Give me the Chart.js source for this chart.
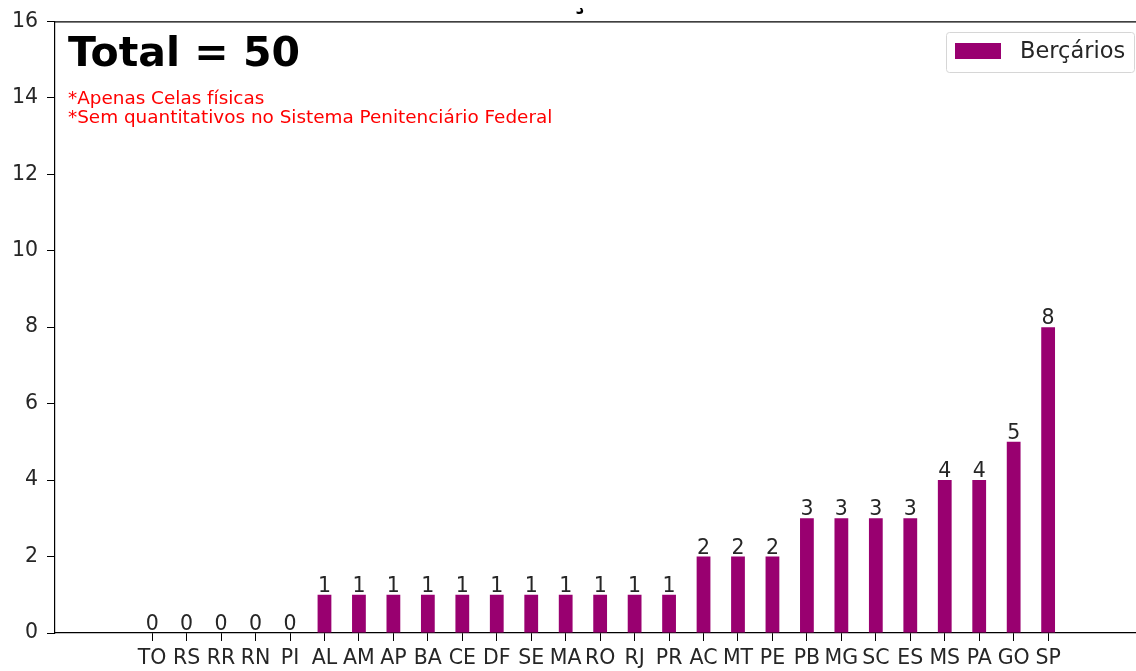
<!DOCTYPE html>
<html>
<head>
<meta charset="utf-8">
<script src="https://cdn.jsdelivr.net/npm/chart.js@4.4.1/dist/chart.umd.min.js"></script>
<style>
  html, body { margin: 0; padding: 0; background: #fff; }
  #wrap { width: 1136px; height: 671px; position: relative; }
</style>
</head>
<body>
<div id="wrap"><canvas id="c" width="1136" height="671"></canvas></div>
<script>
const categories = ["TO","RS","RR","RN","PI","AL","AM","AP","BA","CE","DF","SE","MA","RO","RJ","PR","AC","MT","PE","PB","MG","SC","ES","MS","PA","GO","SP"];
const bercarios = [0,0,0,0,0,1,1,1,1,1,1,1,1,1,1,1,2,2,2,3,3,3,3,4,4,5,8];
const yTicks = [0,2,4,6,8,10,12,14,16];
const seriesLabel = "Berçários";
const totalText = "Total = " + bercarios.reduce((a,b)=>a+b,0);
const notes = ["*Apenas Celas físicas", "*Sem quantitativos no Sistema Penitenciário Federal"];

const FONT = "'DejaVu Sans', sans-serif";
const BAR_COLOR = "#990070";

const overlay = {
  id: 'overlay',
  afterDraw(chart) {
    const ctx = chart.ctx;
    const a = chart.chartArea;
    const xs = chart.scales.x, ys = chart.scales.y;
    ctx.save();
    // top spine
    ctx.strokeStyle = '#000';
    ctx.lineWidth = 1.2;
    ctx.beginPath();
    ctx.moveTo(a.left, a.top + 0.5);
    ctx.lineTo(a.right, a.top + 0.5);
    ctx.stroke();

    // value labels
    ctx.fillStyle = '#262626';
    ctx.font = "20.5px " + FONT;
    ctx.textAlign = 'center';
    ctx.textBaseline = 'alphabetic';
    bercarios.forEach((v, i) => {
      const px = xs.getPixelForValue(i);
      const py = ys.getPixelForValue(v);
      ctx.fillText(String(v), px, py - 3);
    });

    // Total text
    ctx.fillStyle = '#000';
    ctx.font = "bold 41px " + FONT;
    ctx.textAlign = 'left';
    ctx.fillText(totalText, 68, 66);

    // notes
    ctx.fillStyle = '#ff0000';
    ctx.font = "18.4px " + FONT;
    ctx.fillText(notes[0], 68, 104);
    ctx.fillText(notes[1], 68, 123);

    // legend
    const lx = 946, ly = 32, lw = 188, lh = 40;
    ctx.fillStyle = 'rgba(255,255,255,0.8)';
    ctx.strokeStyle = '#d6d6d6';
    ctx.lineWidth = 1;
    ctx.beginPath();
    if (ctx.roundRect) ctx.roundRect(lx + 0.5, ly + 0.5, lw, lh, 3); else ctx.rect(lx + 0.5, ly + 0.5, lw, lh);
    ctx.fill();
    ctx.stroke();
    ctx.fillStyle = BAR_COLOR;
    ctx.fillRect(955, 43, 46, 16);
    ctx.fillStyle = '#262626';
    ctx.font = "22.5px " + FONT;
    ctx.textBaseline = 'middle';
    ctx.fillText(seriesLabel, 1020, 52);

    // clipped title fragment (cut off at top of image)
    ctx.save();
    ctx.beginPath();
    ctx.rect(540, 8, 80, 11);
    ctx.clip();
    ctx.fillStyle = '#000';
    ctx.font = "bold 30px " + FONT;
    ctx.textAlign = 'center';
    ctx.textBaseline = 'alphabetic';
    ctx.fillText("ç", 579, 8);
    ctx.restore();

    ctx.restore();
  }
};

new Chart(document.getElementById('c'), {
  type: 'bar',
  data: {
    datasets: [{
      label: seriesLabel,
      data: bercarios.map((v, i) => ({ x: i, y: v })),
      backgroundColor: BAR_COLOR,
      borderWidth: 0,
      categoryPercentage: 1.0,
      barPercentage: 0.4
    }]
  },
  options: {
    responsive: false,
    animation: false,
    devicePixelRatio: 1,
    layout: { padding: { top: 21, right: 0, left: 0, bottom: 0 } },
    plugins: { legend: { display: false }, tooltip: { enabled: false }, title: { display: false } },
    scales: {
      x: {
        type: 'linear',
        min: -2.82,
        max: 28.55,
        offset: false,
        afterBuildTicks(scale) { scale.ticks = categories.map((c, i) => ({ value: i })); },
        afterFit(scale) { scale.height = 38; },
        ticks: {
          autoSkip: false,
          maxRotation: 0,
          minRotation: 0,
          padding: 5,
          color: '#262626',
          font: { family: FONT, size: 20.5 },
          callback: (v) => categories[v] !== undefined ? categories[v] : ''
        },
        grid: { display: true, drawOnChartArea: false, drawTicks: true, tickLength: 8, tickColor: '#000', offset: false },
        border: { display: true, color: '#000', width: 1.2 }
      },
      y: {
        type: 'linear',
        min: 0,
        max: 16,
        afterBuildTicks(scale) { scale.ticks = yTicks.map(v => ({ value: v })); },
        afterFit(scale) { scale.width = 55; },
        ticks: {
          padding: 9,
          color: '#262626',
          font: { family: FONT, size: 20.5 },
          callback: (v) => String(v)
        },
        grid: { display: true, drawOnChartArea: false, drawTicks: true, tickLength: 8, tickColor: '#000' },
        border: { display: true, color: '#000', width: 1.2 }
      }
    }
  },
  plugins: [overlay]
});
</script>
</body>
</html>
